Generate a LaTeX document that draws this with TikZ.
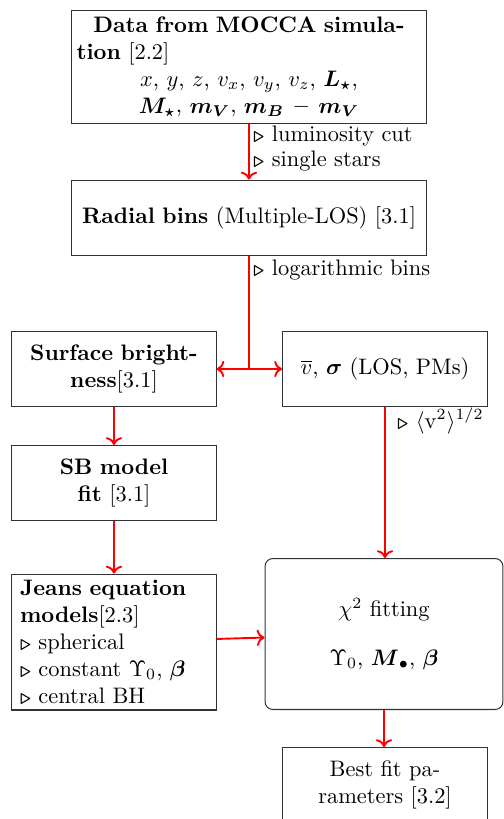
\documentclass[tikz,border=0pt]{standalone}
\usepackage{amsmath,amssymb}
\usetikzlibrary{arrows.meta}
\newcommand{\mytri}{{\footnotesize$\boldsymbol{\triangleright}$}}
\begin{document}
\begin{tikzpicture}[x=0.4464pt,y=-0.4464pt,
  box/.style={draw=black!80, line width=0.45pt, align=center, inner xsep=2.2pt, inner ysep=0pt},
  arr/.style={draw=red, line width=0.85pt, ->},
  lab/.style={anchor=base west, inner sep=0pt}]
\useasboundingbox (0,0) rectangle (504,819);
\node[box, text width=154pt, minimum height=50.4pt] (data) at (249,67)
  {\textbf{Data from MOCCA simula-}\\
   \makebox[154pt][l]{\textbf{tion} [2.2]}\\
   $x$, $y$, $z$, $v_x$, $v_y$, $v_z$, $\boldsymbol{L_\star}$,\\
   $\boldsymbol{M_\star}$, $\boldsymbol{m_V}$, $\boldsymbol{m_B} - \boldsymbol{m_V}$};
\node[box, text width=154pt, minimum height=33.9pt] (radial) at (249,218)
  {\textbf{Radial bins} (Multiple-LOS) [3.1]};
\node[box, text width=86.7pt, minimum height=33.5pt] (sb) at (114,369)
  {\textbf{Surface bright-}\\\textbf{ness}[3.1]};
\node[box, text width=87.1pt, minimum height=33.5pt] (vel) at (385,369)
  {$\overline{v}$, $\boldsymbol{\sigma}$ (LOS, PMs)};
\node[box, text width=86.7pt, minimum height=33.5pt] (sbfit) at (114,483)
  {\textbf{SB model}\\\textbf{fit} [3.1]};
\node[box, align=left, inner xsep=3.6pt, text width=83.9pt, minimum height=60.7pt] (jeans) at (114,642)
  {\textbf{Jeans equation}\\\textbf{models}[2.3]\\\mytri\ spherical\\\mytri\ constant $\Upsilon_0$, $\boldsymbol{\beta}$\\\mytri\ central BH};
\node[box, rounded corners=3.5pt, text width=101.8pt, minimum height=67.4pt] (chi) at (384,634)
  {$\chi^2$ fitting\\[10pt]$\Upsilon_0$, $\boldsymbol{M}_\bullet$, $\boldsymbol{\beta}$};
\node[box, text width=87.1pt, minimum height=33.5pt] (best) at (385,785)
  {Best fit pa-\\rameters [3.2]};
\node[lab] (l1) at (253,142) {\mytri\ luminosity cut};
\node[lab] (l2) at (253,167) {\mytri\ single stars};
\node[lab] (l3) at (253,275) {\mytri\ logarithmic bins};
\node[lab] (l4) at (397,428) {\mytri\ $\langle\mathrm{v}^2\rangle^{1/2}$};
\coordinate (j) at (249,369);
\draw[arr] (data.south) -- (radial.north);
\draw[red, line width=0.85pt] (radial.south) -- (j);
\draw[arr] (j) -- (sb.east);
\draw[arr] (j) -- (vel.west);
\draw[arr] (sb.south) -- (sbfit.north);
\draw[arr] (sbfit.south) -- (jeans.north);
\draw[arr] (vel.south) -- (vel.south |- chi.north);
\draw[arr] (jeans) -- (chi);
\draw[arr] (chi.south) -- (chi.south |- best.north);
\end{tikzpicture}
\end{document}
